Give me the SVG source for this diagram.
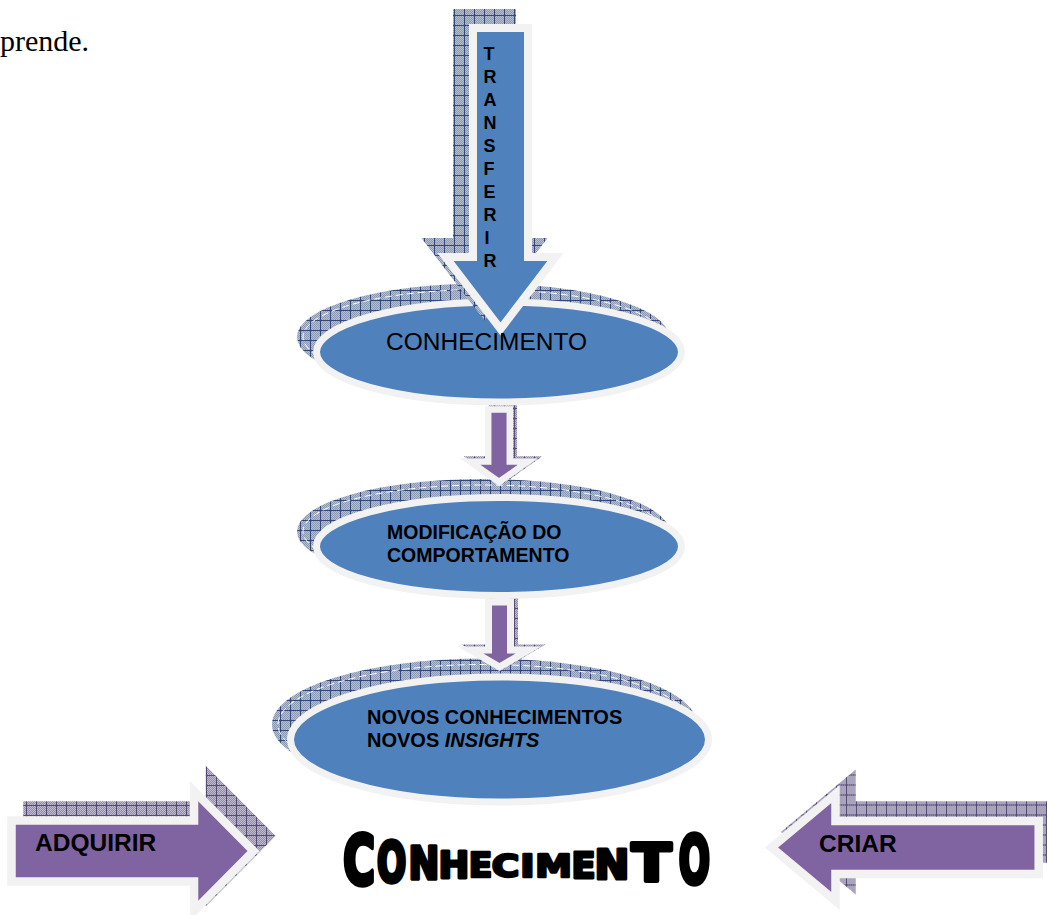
<svg xmlns="http://www.w3.org/2000/svg" width="1047" height="915" viewBox="0 0 1047 915">
  <defs>
    <!-- fine checker texture used under the grid of the shadows -->
    <pattern id="dotsB" width="2" height="2" patternUnits="userSpaceOnUse">
      <rect width="2" height="2" fill="#b7c0d1"/>
      <rect width="1" height="1" fill="#8997b0"/>
      <rect x="1" y="1" width="1" height="1" fill="#8997b0"/>
    </pattern>
    <pattern id="hatchB" width="10" height="10" patternUnits="userSpaceOnUse">
      <rect width="10" height="10" fill="url(#dotsB)"/>
      <path d="M0 0.5H10M0.5 0V10" stroke="#34497a" stroke-width="1"/>
    </pattern>
    <pattern id="dotsP" width="2" height="2" patternUnits="userSpaceOnUse">
      <rect width="2" height="2" fill="#c2bcd0"/>
      <rect width="1" height="1" fill="#9189a8"/>
      <rect x="1" y="1" width="1" height="1" fill="#9189a8"/>
    </pattern>
    <pattern id="hatchP" width="10" height="10" patternUnits="userSpaceOnUse">
      <rect width="10" height="10" fill="url(#dotsP)"/>
      <path d="M0 0.5H10M0.5 0V10" stroke="#564c78" stroke-width="1"/>
    </pattern>
    <path id="arrowTop" d="M473 28H528V257H555.5L500.5 329L445.5 257H473Z"/>
    <path id="arrowMid1" d="M488.2 409.5H509.8V461.5H528L499 482L470 461.5H488.2Z"/>
    <path id="arrowMid2" d="M488.5 602H510.5V650H528.5L499.5 667L470.5 650H488.5Z"/>
    <path id="arrowLeft" d="M11.5 820.5H194V791L253.5 851L194 911V881.5H11.5Z"/>
    <path id="arrowRight" d="M1038.7 821H835.5V794L771.5 847.5L835.5 901V874H1038.7Z"/>
  </defs>
  <style>
    .ring { stroke: #f2f2f2; stroke-linejoin: miter; stroke-miterlimit: 10; }
    .blue { fill: #4f81bd; }
    .purple { fill: #8064a2; }
    .shadowB { fill: url(#hatchB); stroke: url(#hatchB); stroke-linejoin: miter; stroke-miterlimit: 10; }
    .shadowP { fill: url(#hatchP); stroke: url(#hatchP); stroke-linejoin: miter; stroke-miterlimit: 10; }
    .dash { fill: none; stroke: #ffffff; stroke-width: 1; stroke-dasharray: 7 4; }
    .lbl { font-family: "Liberation Sans", Arial, sans-serif; fill: #000; }
    .b { font-weight: bold; }
    .art { font-family: "DejaVu Sans", "Liberation Sans", sans-serif; font-weight: bold; font-size: 40px; fill: #000; stroke: #000; stroke-width: 3.2; stroke-linejoin: round; text-anchor: middle; }
    .body { font-family: "Liberation Serif", "Times New Roman", serif; font-size: 30px; fill: #000; }
  </style>

  <text class="body" x="0" y="51">prende.</text>

  <!-- shadows of the three ellipses -->
  <g id="ellipse-shadows">
    <ellipse cx="483" cy="337" rx="186" ry="53.5" fill="url(#hatchB)"/>
    <ellipse cx="483" cy="337" rx="180" ry="47.5" class="dash"/>
    <ellipse cx="483" cy="531.5" rx="186" ry="52.5" fill="url(#hatchB)"/>
    <ellipse cx="483" cy="531.5" rx="180" ry="46.5" class="dash"/>
    <ellipse cx="484.5" cy="724.5" rx="212.5" ry="66" fill="url(#hatchB)"/>
    <ellipse cx="484.5" cy="724.5" rx="206.5" ry="60" class="dash"/>
  </g>

  <g id="connectors">
    <use href="#arrowMid1" class="shadowP" stroke-width="6.5" transform="translate(4,-2)"/>
    <use href="#arrowMid1" class="purple ring" stroke-width="6.5"/>
    <use href="#arrowMid2" class="shadowP" stroke-width="7" transform="translate(4,-2)"/>
    <use href="#arrowMid2" class="purple ring" stroke-width="7"/>
  </g>

  <g id="node-conhecimento">
    <ellipse cx="499" cy="352" rx="182.5" ry="50" class="blue ring" stroke-width="7"/>
  </g>

  <g id="node-modificacao">
    <ellipse cx="499" cy="546.5" rx="182.5" ry="49" class="blue ring" stroke-width="7"/>
    <text class="lbl b" font-size="19.5"><tspan x="387" y="539">MODIFICAÇÃO DO</tspan><tspan x="387" y="561.7">COMPORTAMENTO</tspan></text>
  </g>

  <g id="node-novos">
    <ellipse cx="499.5" cy="739.5" rx="209" ry="62.5" class="blue ring" stroke-width="7"/>
    <text class="lbl b" font-size="20"><tspan x="367" y="724">NOVOS CONHECIMENTOS</tspan><tspan x="367" y="746.7">NOVOS <tspan font-style="italic">INSIGHTS</tspan></tspan></text>
  </g>

  <g id="node-transferir">
    <use href="#arrowTop" class="shadowB" stroke-width="8" transform="translate(-16,-15)"/>
    <use href="#arrowTop" class="blue ring" stroke-width="8"/>
    <text class="lbl b" font-size="18">
      <tspan x="483.5" y="60">T</tspan>
      <tspan x="483.5" y="83">R</tspan>
      <tspan x="483.5" y="106">A</tspan>
      <tspan x="483.5" y="129">N</tspan>
      <tspan x="483.5" y="152">S</tspan>
      <tspan x="483.5" y="175">F</tspan>
      <tspan x="483.5" y="198">E</tspan>
      <tspan x="483.5" y="221">R</tspan>
      <tspan x="484.5" y="244">I</tspan>
      <tspan x="483.5" y="267">R</tspan>
    </text>
  </g>

  <text class="lbl" font-size="24.5" x="386" y="350">CONHECIMENTO</text>

  <g id="node-adquirir">
    <use href="#arrowLeft" class="shadowP" stroke-width="8.5" transform="translate(16,-15)"/>
    <use href="#arrowLeft" class="purple ring" stroke-width="8.5"/>
    <text class="lbl b" font-size="24.5" x="35" y="851">ADQUIRIR</text>
  </g>

  <g id="node-criar">
    <use href="#arrowRight" class="shadowP" stroke-width="8.5" transform="translate(16,-15.5)"/>
    <use href="#arrowRight" class="purple ring" stroke-width="8.5"/>
    <text class="lbl b" font-size="24.5" x="819" y="852">CRIAR</text>
  </g>

  <!-- title word, letters squeezed toward the middle -->
  <g id="node-titulo">
    <text class="art" transform="translate(359,883.5) scale(1.08,1.677)">C</text>
    <text class="art" transform="translate(391.5,881.2) scale(0.86,1.366)">O</text>
    <text class="art" transform="translate(424,879.3) scale(0.92,1.118)">N</text>
    <text class="art" transform="translate(454,878.1) scale(0.92,0.947)">H</text>
    <text class="art" transform="translate(480.5,877.3) scale(0.86,0.848)">E</text>
    <text class="art" transform="translate(505.5,876.9) scale(0.94,0.792)">C</text>
    <text class="art" transform="translate(527.5,876.8) scale(0.96,0.776)">I</text>
    <text class="art" transform="translate(553.5,877) scale(0.92,0.798)">M</text>
    <text class="art" transform="translate(583.5,877.6) scale(0.88,0.876)">E</text>
    <text class="art" transform="translate(612,878.5) scale(1.04,1.0)">N</text>
    <text class="art" transform="translate(651.5,880.5) scale(1.45,1.27)">T</text>
    <text class="art" transform="translate(694.5,883.4) scale(0.92,1.665)">O</text>
  </g>
</svg>
